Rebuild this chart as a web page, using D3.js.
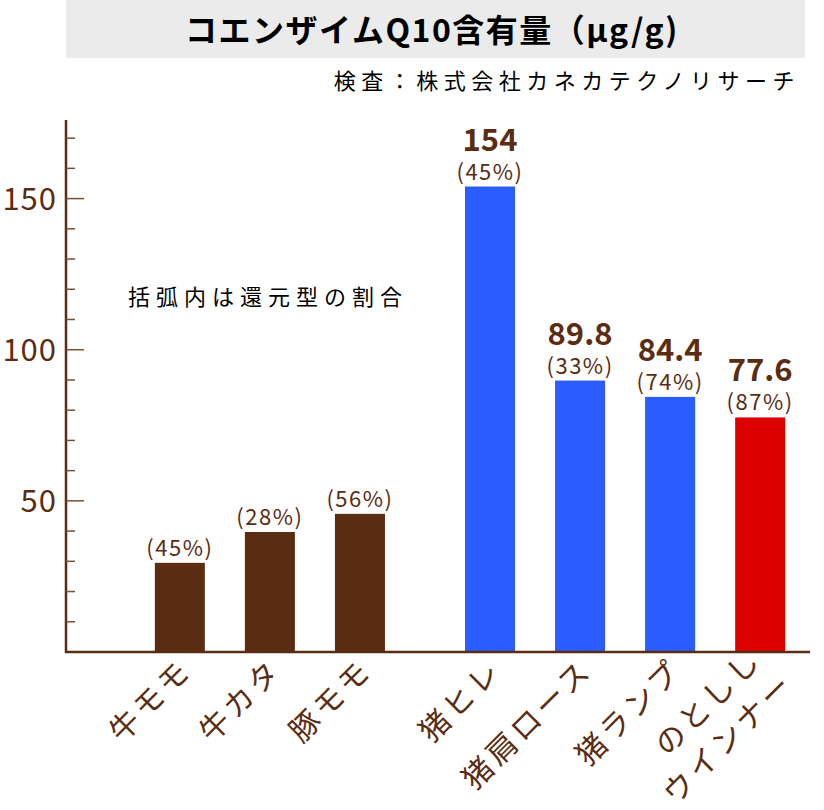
<!DOCTYPE html>
<html><head><meta charset="utf-8">
<script src="https://cdn.jsdelivr.net/npm/d3@7"></script>
<style>body{margin:0;background:#fff}text{font-family:"Noto Sans CJK JP","Noto Sans",sans-serif}</style>
</head><body><svg id="c" width="824" height="810"></svg>
<script>
const categories = ["牛モモ","牛カタ","豚モモ","猪ヒレ","猪肩ロース","猪ランプ","のとしし\nウインナー"];
const values = [29.5, 39.7, 45.7, 154, 89.8, 84.4, 77.6];
const percents = ["(45%)","(28%)","(56%)","(45%)","(33%)","(74%)","(87%)"];
const showValue = [false,false,false,true,true,true,true];
const colors = ["#5a2d12","#5a2d12","#5a2d12","#2a5cff","#2a5cff","#2a5cff","#dd0000"];
const brown = "#5a2d12";

const svg = d3.select("#c");
const y = d3.scaleLinear().domain([0, 176]).range([652, 120]);
const x = d3.scaleBand().domain(d3.range(7)).range([135, 765]).paddingInner(0.444).paddingOuter(0.22);
const cx = i => x(i) + x.bandwidth()/2 + (i >= 3 ? 40 : 0);

svg.append("rect").attr("x",66).attr("y",0).attr("width",739).attr("height",58).attr("fill","#ebebeb");
svg.append("text").attr("x",432).attr("y",42).attr("text-anchor","middle").attr("font-size",32).attr("font-weight","bold").attr("letter-spacing",1.5).text("コエンザイムQ10含有量（μg/g)");
svg.append("text").attr("x",800).attr("y",89).attr("text-anchor","end").attr("font-size",22).attr("letter-spacing",5.5).text("検査：株式会社カネカテクノリサーチ");
svg.append("text").attr("x",128).attr("y",305).attr("font-size",22).attr("letter-spacing",6).text("括弧内は還元型の割合");

svg.selectAll("rect.bar").data(values).join("rect").attr("class","bar")
  .attr("x",(d,i)=>cx(i)-25).attr("width",50).attr("y",d=>y(d)).attr("height",d=>y(0)-y(d)).attr("fill",(d,i)=>colors[i]);

svg.selectAll("text.pct").data(percents).join("text").attr("class","pct")
  .attr("x",(d,i)=>cx(i)).attr("y",(d,i)=>y(values[i])-7).attr("text-anchor","middle")
  .attr("font-size",22).attr("letter-spacing",1.5).attr("fill",brown).text(d=>d);
svg.selectAll("text.val").data(values.filter((d,i)=>showValue[i]).map((d,k)=>({d,i:k+3}))).join("text").attr("class","val")
  .attr("x",o=>cx(o.i)).attr("y",o=>y(o.d)-36).attr("text-anchor","middle")
  .attr("font-size",31).attr("font-weight","bold").attr("fill",brown).text(o=>o.d);

// axis
const ax = svg.append("g").attr("stroke",brown);
ax.append("line").attr("x1",66).attr("x2",66).attr("y1",120).attr("y2",653).attr("stroke-width",2.5);
ax.append("line").attr("x1",65).attr("x2",810).attr("y1",652).attr("y2",652).attr("stroke-width",2.5);
d3.range(10,180,10).forEach(t=>{
  ax.append("line").attr("x1",66).attr("x2",t%50===0?84:75).attr("y1",y(t)).attr("y2",y(t)).attr("stroke-width",1.5).attr("stroke","#7a5035");
});
svg.selectAll("text.tick").data([50,100,150]).join("text").attr("class","tick")
  .attr("x",57).attr("y",d=>y(d)+11).attr("text-anchor","end").attr("font-size",31).attr("letter-spacing",1)
  .attr("fill",brown).text(d=>d);

// category labels
categories.forEach((c,i)=>{
  const lines = c.split("\n");
  const g = svg.append("g").attr("transform",`translate(${cx(i)+14},${672}) rotate(-45)`);
  lines.forEach((l,k)=>{
    g.append("text").attr("x",k*6).attr("y",(k-(lines.length-1))*40+(lines.length>1?25:0)).attr("text-anchor","end")
      .attr("font-size",30).attr("letter-spacing",4).attr("fill",brown).text(l);
  });
});
</script></body></html>
